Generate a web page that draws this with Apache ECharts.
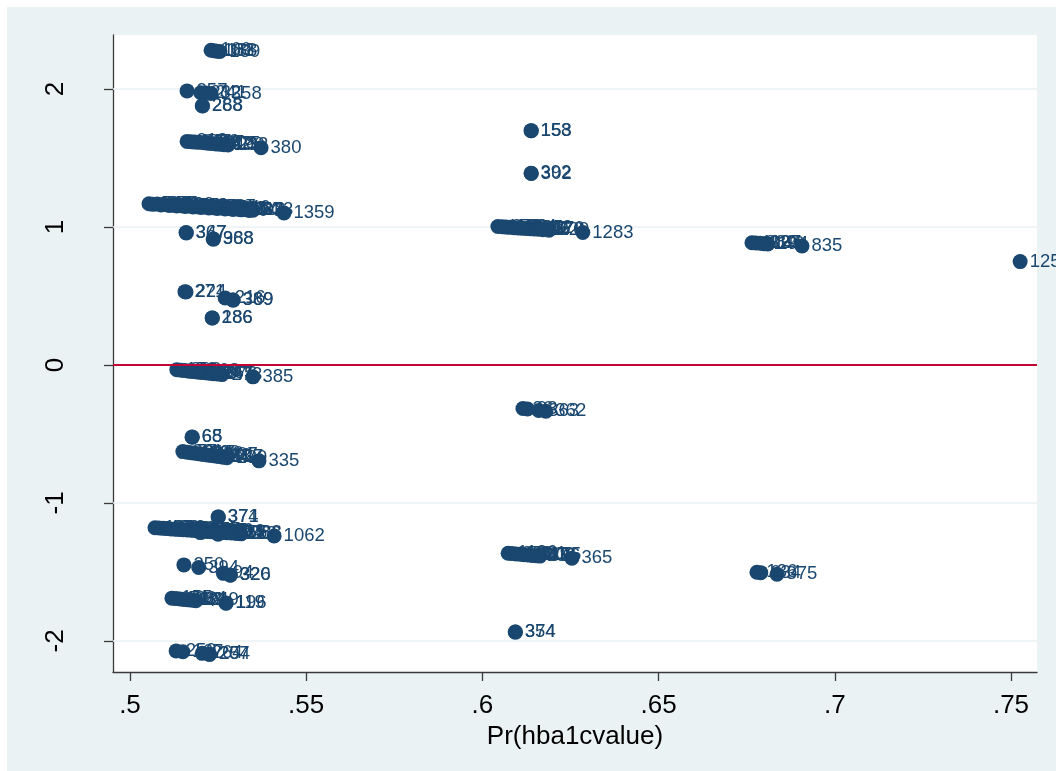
<!DOCTYPE html>
<html>
<head>
<meta charset="utf-8">
<script src="https://cdn.jsdelivr.net/npm/echarts@6/dist/echarts.min.js"></script>
<style>html,body{margin:0;padding:0;background:#fff}#c{width:1056px;height:771px}</style>
</head>
<body>
<div id="c"></div>
<script>
// ---- tick values / labels ----
const xTickVals = [0.5, 0.55, 0.6, 0.65, 0.7, 0.75];
const xTickLabels = ['.5', '.55', '.6', '.65', '.7', '.75'];
const yTickVals = [-2, -1, 0, 1, 2];
const yTickLabels = ['-2', '-1', '0', '1', '2'];
const xAxisTitle = 'Pr(hba1cvalue)';

// ---- points with Pr(hba1cvalue) ~ .50-.55 ----
const prLeft = [
  0.5230, 0.5238, 0.5247, 0.5255,
  0.5162, 0.5201, 0.5216, 0.5230, 0.5205, 0.5206,
  0.5162, 0.5173, 0.5184, 0.5196, 0.5210, 0.5221, 0.5233, 0.5244, 0.5255, 0.5267, 0.5278, 0.5372,
  0.5054, 0.5065, 0.5077, 0.5088, 0.5099, 0.5111, 0.5122, 0.5133, 0.5145, 0.5156, 0.5167, 0.5179, 0.5190, 0.5201,
  0.5213, 0.5224, 0.5236, 0.5247, 0.5258, 0.5270, 0.5281, 0.5292, 0.5304, 0.5315, 0.5326, 0.5338, 0.5349, 0.5437,
  0.5159, 0.5160, 0.5236, 0.5237,
  0.5156, 0.5159, 0.5270, 0.5292, 0.5293,
  0.5233, 0.5234,
  0.5133, 0.5145, 0.5156, 0.5167, 0.5179, 0.5190, 0.5201, 0.5213, 0.5224, 0.5236, 0.5247, 0.5261, 0.5349,
  0.5176, 0.5177,
  0.5150, 0.5162, 0.5173, 0.5184, 0.5196, 0.5207, 0.5219, 0.5230, 0.5241, 0.5253, 0.5264, 0.5275, 0.5366,
  0.5250, 0.5251,
  0.5071, 0.5082, 0.5094, 0.5105, 0.5116, 0.5128, 0.5139, 0.5150, 0.5162, 0.5173, 0.5184, 0.5196, 0.5207, 0.5219,
  0.5230, 0.5241, 0.5253, 0.5264, 0.5275, 0.5287, 0.5200, 0.5250, 0.5301, 0.5315, 0.5409,
  0.5153, 0.5195, 0.5265, 0.5284, 0.5285,
  0.5119, 0.5131, 0.5142, 0.5153, 0.5165, 0.5176, 0.5187, 0.5272, 0.5273,
  0.5131, 0.5150, 0.5205, 0.5225, 0.5226
];
const residLeft = [
  2.280, 2.277, 2.274, 2.271,
  1.986, 1.972, 1.970, 1.967, 1.878, 1.877,
  1.620, 1.617, 1.615, 1.613, 1.610, 1.607, 1.604, 1.602, 1.599, 1.596, 1.594, 1.574,
  1.168, 1.164, 1.166, 1.160, 1.162, 1.156, 1.158, 1.152, 1.154, 1.148, 1.151, 1.145, 1.147, 1.141,
  1.144, 1.138, 1.140, 1.134, 1.137, 1.131, 1.133, 1.127, 1.130, 1.124, 1.126, 1.119, 1.121, 1.101,
  0.959, 0.957, 0.913, 0.912,
  0.531, 0.529, 0.485, 0.471, 0.470,
  0.341, 0.340,
  -0.034, -0.038, -0.041, -0.045, -0.048, -0.051, -0.054, -0.057, -0.060, -0.063, -0.066, -0.070, -0.086,
  -0.522, -0.523,
  -0.628, -0.632, -0.636, -0.640, -0.644, -0.648, -0.652, -0.656, -0.660, -0.664, -0.668, -0.672, -0.695,
  -1.101, -1.102,
  -1.180, -1.182, -1.184, -1.186, -1.188, -1.190, -1.192, -1.194, -1.196, -1.198, -1.200, -1.202, -1.204, -1.206,
  -1.208, -1.210, -1.212, -1.214, -1.216, -1.218, -1.215, -1.226, -1.221, -1.224, -1.240,
  -1.449, -1.468, -1.510, -1.522, -1.523,
  -1.690, -1.693, -1.696, -1.699, -1.702, -1.705, -1.708, -1.725, -1.726,
  -2.072, -2.078, -2.090, -2.096, -2.097
];
const obsLeft = [
  '160', '183', '188', '189',
  '257', '232', '241', '1358', '288', '268',
  '212', '147', '95', '303', '227', '64', '242', '318', '275', '190', '232', '380',
  '1241', '512', '877', '45', '1103', '733', '96', '1012', '420', '67', '851', '1190', '305', '648',
  '1287', '219', '974', '58', '1146', '402', '791', '1333', '86', '560', '218', '94', '273', '1359',
  '367', '347', '368', '988',
  '271', '224', '216', '389', '369',
  '286', '186',
  '173', '309', '44', '1208', '261', '87', '330', '1165', '19', '247', '376', '273', '385',
  '68', '65',
  '201', '77', '1120', '315', '62', '248', '1007', '133', '291', '54', '127', '239', '335',
  '374', '371',
  '1302', '488', '97', '1051', '236', '710', '1269', '53', '344', '1177', '602', '81', '1230', '465',
  '170', '1319', '27', '904', '355', '1088', '41', '88', '212', '366', '1062',
  '250', '394', '94', '320', '326',
  '155', '1034', '71', '289', '1249', '12', '40', '119', '196',
  '259', '167', '264', '207', '254'
];

// ---- points with Pr(hba1cvalue) ~ .60-.63 ----
const prMid = [
  0.6138, 0.6139,
  0.6138, 0.6139,
  0.6044, 0.6056, 0.6067, 0.6078, 0.6090, 0.6101, 0.6112, 0.6124, 0.6135, 0.6146, 0.6158, 0.6172, 0.6189, 0.6285,
  0.6115, 0.6128, 0.6160, 0.6180,
  0.6073, 0.6084, 0.6095, 0.6107, 0.6118, 0.6129, 0.6141, 0.6152, 0.6163, 0.6254,
  0.6093, 0.6094
];
const residMid = [
  1.698, 1.697,
  1.389, 1.388,
  1.003, 1.001, 0.999, 0.997, 0.995, 0.993, 0.991, 0.989, 0.987, 0.985, 0.983, 0.980, 0.977, 0.960,
  -0.316, -0.319, -0.330, -0.336,
  -1.364, -1.367, -1.370, -1.372, -1.375, -1.377, -1.380, -1.382, -1.385, -1.400,
  -1.935, -1.936
];
const obsMid = [
  '158', '153',
  '392', '302',
  '1166', '243', '1324', '78', '1195', '361', '1042', '149', '356', '1270', '87', '176', '229', '1283',
  '36', '93', '363', '362',
  '1136', '268', '1331', '59', '1208', '347', '1175', '306', '336', '365',
  '354', '374'
];

// ---- points with Pr(hba1cvalue) ~ .68-.76 ----
const prRight = [
  0.6765, 0.6776, 0.6788, 0.6799, 0.6810, 0.6907,
  0.6779, 0.6790, 0.6836,
  0.7526
];
const residRight = [
  0.886, 0.884, 0.882, 0.879, 0.877, 0.862,
  -1.502, -1.505, -1.517,
  0.749
];
const obsRight = [
  '1137', '289', '323', '146', '194', '835',
  '136', '634', '375',
  '1258'
];

// ---- build ----
const NAVY = '#1a476f';
const BG = '#eaf2f3';
const FONT = '"Liberation Sans", Arial, Helvetica, sans-serif';

function toPoints(xs, ys, names) {
  return xs.map((x, i) => ({ value: [x, ys[i]], name: names[i] }));
}
const allPoints = [].concat(
  toPoints(prLeft, residLeft, obsLeft),
  toPoints(prMid, residMid, obsMid),
  toPoints(prRight, residRight, obsRight)
);

function tickFmt(vals, labels) {
  return function (v) {
    for (let i = 0; i < vals.length; i++) {
      if (Math.abs(vals[i] - v) < 1e-9) return labels[i];
    }
    return '';
  };
}

const chart = echarts.init(document.getElementById('c'), null, { renderer: 'canvas', width: 1056, height: 771 });

const option = {
  animation: false,
  backgroundColor: BG,
  textStyle: { fontFamily: FONT },
  graphic: [
    { type: 'rect', shape: { x: 0, y: 0, width: 1056, height: 7 }, style: { fill: '#ffffff' }, silent: true },
    { type: 'rect', shape: { x: 0, y: 0, width: 7, height: 771 }, style: { fill: '#ffffff' }, silent: true }
  ],
  grid: {
    left: 113, top: 35, right: 19, bottom: 99,
    show: true, backgroundColor: '#ffffff', borderWidth: 0
  },
  xAxis: {
    type: 'value',
    min: 0.49518, max: 0.75738,
    axisLine: { show: true, onZero: false, lineStyle: { color: '#3a3a3a', width: 1.3 } },
    axisTick: { show: true, length: 9, customValues: xTickVals, lineStyle: { color: '#3a3a3a', width: 1.3 } },
    axisLabel: {
      customValues: xTickVals, formatter: tickFmt(xTickVals, xTickLabels),
      fontSize: 26, color: '#000', margin: 21, fontFamily: FONT
    },
    splitLine: { show: false },
    name: xAxisTitle, nameLocation: 'middle', nameGap: 43,
    nameTextStyle: { fontSize: 26, color: '#000', fontFamily: FONT }
  },
  yAxis: {
    type: 'value',
    min: -2.225, max: 2.391,
    axisLine: { show: true, onZero: false, lineStyle: { color: '#3a3a3a', width: 1.3 } },
    axisTick: { show: true, length: 9, customValues: yTickVals, lineStyle: { color: '#3a3a3a', width: 1.3 } },
    axisLabel: {
      customValues: yTickVals, formatter: tickFmt(yTickVals, yTickLabels),
      rotate: 90, fontSize: 26, color: '#000', margin: 44, fontFamily: FONT
    },
    splitLine: { show: false }
  },
  series: [
    {
      type: 'line', data: [], silent: true, z: 1,
      markLine: {
        z: 1, silent: true, symbol: ['none', 'none'], label: { show: false },
        lineStyle: { color: BG, width: 1.6, type: 'solid' },
        data: yTickVals.filter(v => v !== 0).map(v => ({ yAxis: v }))
      }
    },
    {
      type: 'scatter', z: 2,
      symbol: 'circle', symbolSize: 15,
      itemStyle: { color: NAVY, opacity: 1 },
      label: {
        show: true, position: 'right', distance: 2, offset: [0, 1],
        formatter: '{b}', fontSize: 18.5, color: NAVY, fontFamily: FONT
      },
      labelLayout: { hideOverlap: false },
      data: allPoints
    },
    {
      type: 'line', data: [], silent: true, z: 3,
      markLine: {
        z: 3, silent: true, symbol: ['none', 'none'], label: { show: false },
        lineStyle: { color: '#c10534', width: 2, type: 'solid' },
        data: [{ yAxis: 0 }]
      }
    }
  ]
};
chart.setOption(option);
</script>
</body>
</html>
